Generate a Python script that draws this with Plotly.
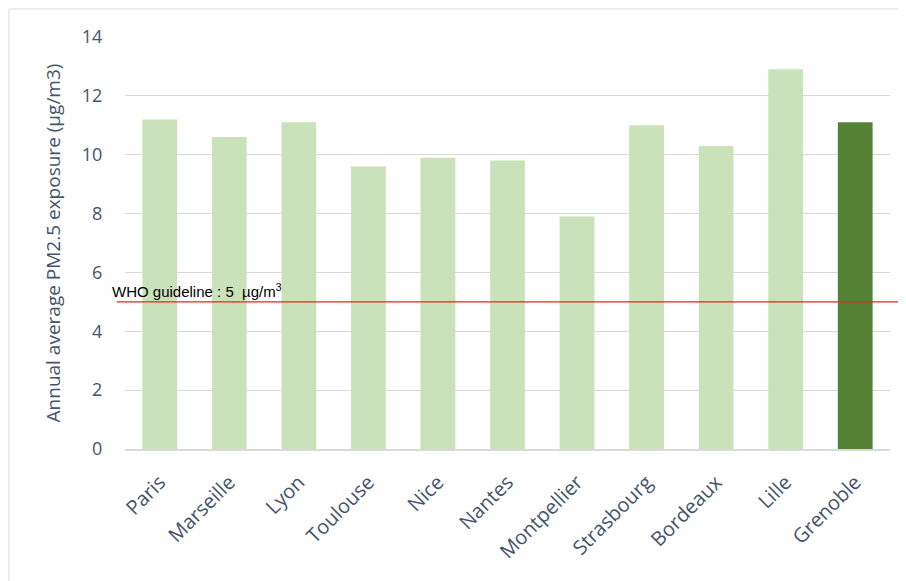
import plotly.graph_objects as go

cities = ["Paris", "Marseille", "Lyon", "Toulouse", "Nice", "Nantes",
          "Montpellier", "Strasbourg", "Bordeaux", "Lille", "Grenoble"]
pm25 = [11.2, 10.6, 11.1, 9.6, 9.9, 9.8, 7.9, 11.0, 10.3, 12.9, 11.1]
who_guideline = 5
y_ticks = [0, 2, 4, 6, 8, 10, 12, 14]

light = "#C9E2BA"
dark = "#548235"
colors = [dark if c == "Grenoble" else light for c in cities]
txt = "#44546A"

fig = go.Figure(go.Bar(x=cities, y=pm25, marker_color=colors, width=0.5,
                       marker_line_width=0))

W, H = 906, 581
OFF = 8  # page offset
ml, mr, mt, mb = 125 - OFF, 24, 37 - OFF, 140
pw = W - ml - mr
ph = H - mt - mb


def px_x(x):
    return (x - OFF - ml) / pw


def px_y(y):
    return (H - mb - (y - OFF)) / ph


fig.update_layout(
    width=W, height=H,
    margin=dict(l=ml, r=mr, t=mt, b=mb),
    paper_bgcolor="white", plot_bgcolor="white",
    showlegend=False,
    font=dict(family="Open Sans", color=txt),
    xaxis=dict(tickangle=-45, tickfont=dict(size=20, color=txt),
               showgrid=False, showline=True, linecolor="#D9D9D9",
               linewidth=1.5, ticks="outside", ticklen=12, tickcolor="white"),
    yaxis=dict(range=[0, 14], tickvals=y_ticks, tickfont=dict(size=18, color=txt),
               showgrid=True, gridcolor="#D9D9D9", gridwidth=1,
               zeroline=False, ticks="outside", ticklen=18, tickcolor="white",
               title=dict(text="Annual average PM2.5 exposure (µg/m3)",
                          font=dict(size=19, color=txt), standoff=16)),
    shapes=[
        dict(type="line", xref="paper", yref="y",
             x0=px_x(117), x1=px_x(906),
             y0=who_guideline, y1=who_guideline,
             line=dict(color="#E8231B", width=1.2)),
        dict(type="line", xref="paper", yref="paper",
             x0=px_x(9), x1=px_x(9),
             y0=px_y(585), y1=px_y(9),
             line=dict(color="#D9D9D9", width=1)),
        dict(type="line", xref="paper", yref="paper",
             x0=px_x(9), x1=px_x(915),
             y0=px_y(9), y1=px_y(9),
             line=dict(color="#D9D9D9", width=1)),
    ],
    annotations=[
        dict(text="WHO guideline : 5  µg/m<sup>3</sup>", xref="paper", yref="y",
             x=px_x(110), y=who_guideline, xanchor="left", yanchor="bottom",
             showarrow=False, yshift=0,
             font=dict(family="Liberation Sans", size=15, color="black")),
    ],
)

fig.write_html("out.html")
